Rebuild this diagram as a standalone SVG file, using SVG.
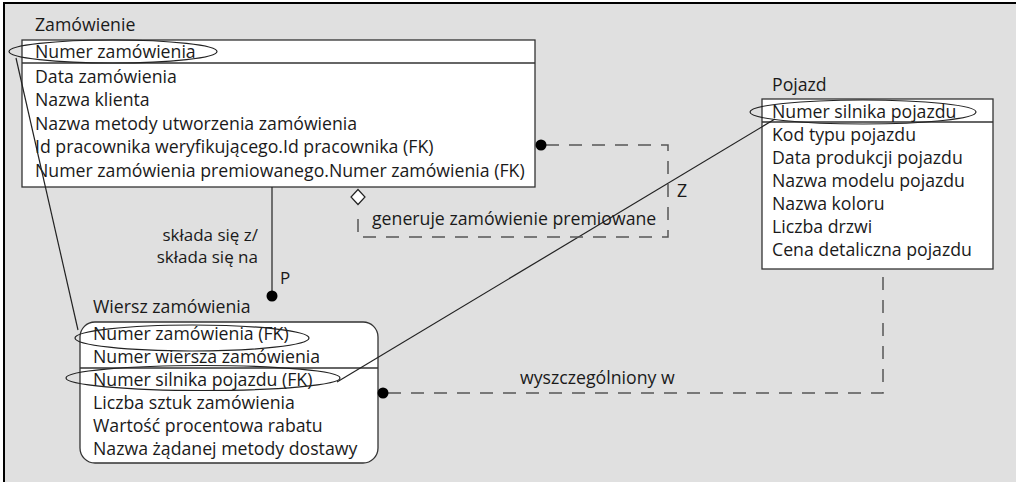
<svg xmlns="http://www.w3.org/2000/svg" width="1016" height="482" viewBox="0 0 1016 482">
<style>
text{font-family:"Open Sans","Liberation Sans",sans-serif;font-size:17.7px;fill:#1a1a1a}
text.lbl{font-size:17px}
.box{fill:#fff;stroke:#333;stroke-width:1.3}
.div{stroke:#333;stroke-width:1.3}
.ell{fill:none;stroke:#222;stroke-width:1.2}
.solid{stroke:#222;stroke-width:1.2;fill:none}
.dash{stroke:#555;stroke-width:1.5;fill:none;stroke-dasharray:13 10}
</style>
<rect x="0" y="0" width="1016" height="482" fill="#fff"/>
<rect x="4" y="3" width="1012" height="479" fill="#e0e0e0"/>
<path d="M4 482V3H1016" fill="none" stroke="#000" stroke-width="2"/>

<g id="zamowienie">
<text x="35" y="31">Zamówienie</text>
<rect class="box" x="22" y="40" width="513" height="147"/>
<line class="div" x1="22" y1="63" x2="535" y2="63"/>
<text x="35" y="58">Numer zamówienia</text>
<text x="35" y="83">Data zamówienia</text>
<text x="35" y="106">Nazwa klienta</text>
<text x="35" y="130">Nazwa metody utworzenia zamówienia</text>
<text x="35" y="153">Id pracownika weryfikującego.Id pracownika (FK)</text>
<text x="35" y="177">Numer zamówienia premiowanego.Numer zamówienia (FK)</text>
<ellipse class="ell" cx="113" cy="51.5" rx="104" ry="11.5"/>
</g>

<g id="pojazd">
<text x="772" y="91">Pojazd</text>
<rect class="box" x="762" y="99" width="231" height="170"/>
<line class="div" x1="762" y1="122" x2="993" y2="122"/>
<text x="772" y="118">Numer silnika pojazdu</text>
<text x="772" y="141">Kod typu pojazdu</text>
<text x="772" y="164">Data produkcji pojazdu</text>
<text x="772" y="187">Nazwa modelu pojazdu</text>
<text x="772" y="210">Nazwa koloru</text>
<text x="772" y="233">Liczba drzwi</text>
<text x="772" y="256">Cena detaliczna pojazdu</text>
<ellipse class="ell" cx="863" cy="112" rx="113" ry="12"/>
</g>

<g id="wiersz">
<text x="93" y="313">Wiersz zamówienia</text>
<rect class="box" x="80" y="322" width="298" height="141" rx="15" ry="15"/>
<line class="div" x1="80" y1="368" x2="378" y2="368"/>
<text x="93" y="340">Numer zamówienia (FK)</text>
<text x="93" y="363">Numer wiersza zamówienia</text>
<text x="93" y="386">Numer silnika pojazdu (FK)</text>
<text x="93" y="409">Liczba sztuk zamówienia</text>
<text x="93" y="432">Wartość procentowa rabatu</text>
<text x="93" y="455">Nazwa żądanej metody dostawy</text>
<ellipse class="ell" cx="192" cy="338" rx="117" ry="13"/>
<ellipse class="ell" cx="203" cy="378" rx="137" ry="12.5"/>
</g>

<g id="connectors">
<line class="solid" x1="16" y1="58" x2="78" y2="330"/>
<line class="solid" x1="775" y1="119" x2="337" y2="382"/>
<line class="solid" x1="272" y1="187" x2="272" y2="296"/>
<circle cx="272" cy="296" r="5.5" fill="#000"/>
<text class="lbl" x="258" y="241" text-anchor="end">składa się z/</text>
<text class="lbl" x="258" y="263" text-anchor="end">składa się na</text>
<text class="lbl" x="280" y="284">P</text>

<path class="dash" d="M546 145H668V237H358V212"/>
<circle cx="541" cy="145" r="5.5" fill="#000"/>
<path d="M358 189.5L365 197L358 204.5L351 197Z" fill="#fff" stroke="#222" stroke-width="1.2"/>
<text x="372" y="225">generuje zamówienie premiowane</text>
<text x="677" y="197">Z</text>

<path class="dash" d="M388 393H883V270"/>
<circle cx="383" cy="393" r="5.5" fill="#000"/>
<text x="520" y="384">wyszczególniony w</text>
</g>
</svg>
